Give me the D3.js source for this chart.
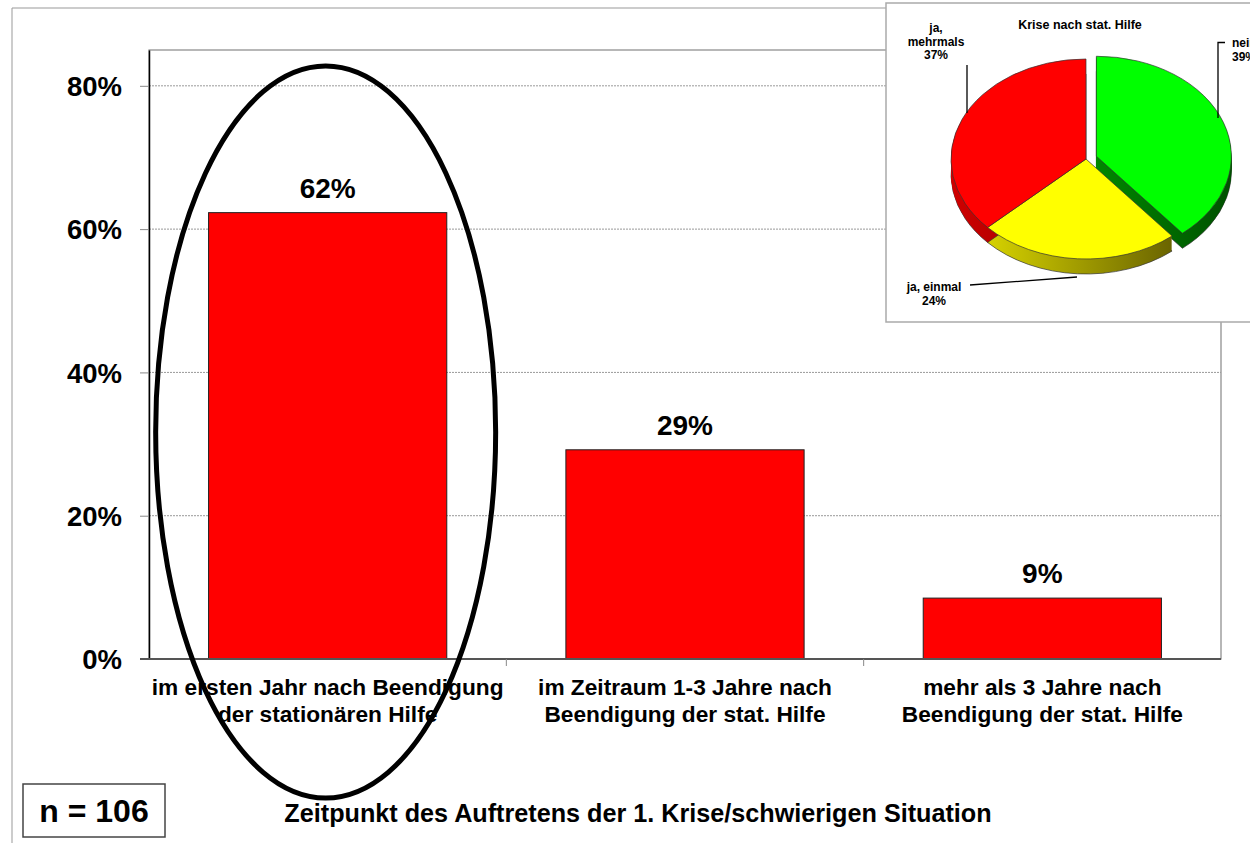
<!DOCTYPE html>
<html>
<head>
<meta charset="utf-8">
<script src="https://cdn.jsdelivr.net/npm/d3@7"></script>
<style>
body{margin:0;background:#fff;overflow:hidden}
svg{font-family:"Liberation Sans",Arial,sans-serif;font-weight:bold;display:block}
</style>
</head>
<body>
<svg id="chart" width="1250" height="843"></svg>
<script>
// bar chart data
var categories=[["im ersten Jahr nach Beendigung","der stationären Hilfe"],
  ["im Zeitraum 1-3 Jahre nach","Beendigung der stat. Hilfe"],
  ["mehr als 3 Jahre nach","Beendigung der stat. Hilfe"]];
var values=[62.3,29.2,8.5];
var valueLabels=["62%","29%","9%"];
var yTicks=[0,20,40,60,80];
var xTitle="Zeitpunkt des Auftretens der 1. Krise/schwierigen Situation";
var sampleSize="n = 106";

// inset pie data (clockwise from top)
var pieNames=[["nein","39%"],["ja, einmal","24%"],["ja,","mehrmals","37%"]];
var pieValues=[39,24,37];
var pieTitle="Krise nach stat. Hilfe";

var svg=d3.select("#chart");
var pL=149,pR=1221,pT=50,pB=659;

// page frame
svg.append("path").attr("d","M12,843V8H1250").attr("fill","none").attr("stroke","#999").attr("stroke-width",1);

var y=d3.scaleLinear().domain([0,85]).range([pB,pT]);
var x=d3.scaleBand().domain(d3.range(categories.length)).range([pL,pR]).paddingInner(1/3).paddingOuter(1/6);

// plot frame
svg.append("rect").attr("x",pL).attr("y",pT).attr("width",pR-pL).attr("height",pB-pT)
  .attr("fill","none").attr("stroke","#888").attr("stroke-width",1.2);

// gridlines
svg.selectAll("line.grid").data(yTicks.filter(function(d){return d>0})).enter().append("line")
  .attr("class","grid").attr("x1",pL).attr("x2",pR)
  .attr("y1",function(d){return y(d)}).attr("y2",function(d){return y(d)})
  .attr("stroke","#999").attr("stroke-width",1).attr("stroke-dasharray","2,1");

// bars
svg.selectAll("rect.bar").data(values).enter().append("rect").attr("class","bar")
  .attr("x",function(d,i){return x(i)}).attr("width",x.bandwidth())
  .attr("y",function(d){return y(d)}).attr("height",function(d){return pB-y(d)})
  .attr("fill","#ff0000").attr("stroke","#222").attr("stroke-width",1);

svg.selectAll("text.val").data(values).enter().append("text").attr("class","val")
  .attr("x",function(d,i){return x(i)+x.bandwidth()/2}).attr("y",function(d){return y(d)-15})
  .attr("text-anchor","middle").attr("font-size",28).text(function(d,i){return valueLabels[i]});

// y axis
var yAxis=d3.axisLeft(y).tickValues(yTicks).tickSize(9).tickSizeOuter(0).tickPadding(18)
  .tickFormat(function(d){return d+"%"});
var ga=svg.append("g").attr("transform","translate("+pL+",0)").call(yAxis);
ga.select(".domain").attr("stroke","#000").attr("stroke-width",1.5);
ga.selectAll(".tick line").attr("stroke","#888");
ga.selectAll(".tick text").attr("font-size",27.5).attr("fill","#000").attr("dy","0.35em");
ga.attr("font-family",null).attr("font-size",null);

// x axis line and boundary ticks
svg.append("line").attr("x1",pL-9).attr("x2",pR).attr("y1",pB).attr("y2",pB)
  .attr("stroke","#555").attr("stroke-width",1.8);
var bounds=d3.range(1,categories.length).map(function(i){return x(i)-(x.step()-x.bandwidth())/2});
svg.selectAll("line.xt").data(bounds).enter().append("line").attr("class","xt")
  .attr("x1",function(d){return d}).attr("x2",function(d){return d})
  .attr("y1",pB).attr("y2",pB+7).attr("stroke","#888");

// category labels
var cl=svg.selectAll("text.cat").data(categories).enter().append("text").attr("class","cat")
  .attr("text-anchor","middle").attr("font-size",22.7);
cl.selectAll("tspan").data(function(d,i){return d.map(function(s){return {s:s,i:i}})}).enter().append("tspan")
  .attr("x",function(d){return x(d.i)+x.bandwidth()/2})
  .attr("y",function(d,j){return 695+j*27}).text(function(d){return d.s});

// axis title
svg.append("text").attr("x",638).attr("y",822).attr("text-anchor","middle").attr("font-size",25.2).text(xTitle);

// n box
svg.append("rect").attr("x",23).attr("y",784).attr("width",142).attr("height",53)
  .attr("fill","#fff").attr("stroke","#444").attr("stroke-width",1.5);
svg.append("text").attr("x",94).attr("y",822).attr("text-anchor","middle").attr("font-size",32).text(sampleSize);

// highlight ellipse around first bar
svg.append("ellipse").attr("cx",x(0)+x.bandwidth()/2-2).attr("cy",432).attr("rx",170).attr("ry",366)
  .attr("fill","none").attr("stroke","#000").attr("stroke-width",5);

// ---- inset 3D pie ----
svg.append("rect").attr("x",886).attr("y",3).attr("width",400).attr("height",319)
  .attr("fill","#fff").attr("stroke","#aaa").attr("stroke-width",1.5);
svg.append("text").attr("x",1080).attr("y",29).attr("text-anchor","middle").attr("font-size",12.5).text(pieTitle);

var defs=svg.append("defs");
var topCols=["#00ff00","#ffff00","#ff0000"];
var sideCols=[["#008800","#005000"],["#d6d200","#6a6400"],["#d00000","#8a0000"]];
sideCols.forEach(function(c,i){
  var g=defs.append("linearGradient").attr("id","side"+i).attr("x1",0).attr("x2",1).attr("y1",0).attr("y2",0);
  g.append("stop").attr("offset","0%").attr("stop-color",c[0]);
  g.append("stop").attr("offset","100%").attr("stop-color",c[1]);
});

var pcx=1086,pcy=159,pr=135,tilt=100/135,depth=15;
var explode=[11,0,0];
var slices=d3.pie().sort(null).value(function(d){return d})(pieValues);
var arc=d3.arc().innerRadius(0).outerRadius(pr);
function sliceTf(d,i,k){
  var m=(d.startAngle+d.endAngle)/2;
  var ox=Math.sin(m)*explode[i],oy=-Math.cos(m)*explode[i]*tilt;
  return "translate("+(pcx+ox)+","+(pcy+oy+k)+") scale(1,"+tilt+")";
}
var pg=svg.append("g");
slices.forEach(function(d,i){
  for(var k=depth;k>=1;k--){
    pg.append("path").attr("d",arc(d)).attr("transform",sliceTf(d,i,k))
      .attr("fill","url(#side"+i+")")
      .attr("stroke",k==depth?"#333":"none").attr("stroke-width",0.7)
      .attr("vector-effect","non-scaling-stroke");
  }
});
slices.forEach(function(d,i){
  pg.append("path").attr("d",arc(d)).attr("transform",sliceTf(d,i,0))
    .attr("fill",topCols[i]).attr("stroke","#333").attr("stroke-width",0.7)
    .attr("vector-effect","non-scaling-stroke");
});

// pie labels and leader lines
var lab=[{x:1232,y:47,a:"start"},{x:934,y:291,a:"middle"},{x:936,y:32,a:"middle"}];
pieNames.forEach(function(lines,i){
  var t=svg.append("text").attr("text-anchor",lab[i].a).attr("font-size",12);
  lines.forEach(function(s,j){
    t.append("tspan").attr("x",lab[i].x).attr("y",lab[i].y+j*13.5).text(s);
  });
});
var leaders=["M1225,42.5H1218V118","M970,285L1077,277","M967,65V113"];
svg.selectAll("path.lead").data(leaders).enter().append("path").attr("class","lead")
  .attr("d",function(d){return d}).attr("fill","none").attr("stroke","#000").attr("stroke-width",1.3);
</script>
</body>
</html>
